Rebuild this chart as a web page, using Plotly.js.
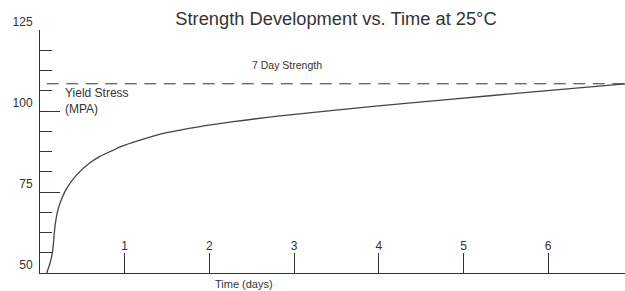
<!DOCTYPE html>
<html>
<head>
<meta charset="utf-8">
<script src="https://cdn.plot.ly/plotly-3.0.1.min.js"></script>
<style>html,body{margin:0;padding:0;background:#fff;}#chart{width:625px;height:291px;}</style>
</head>
<body>
<div id="chart"></div>
<script>
// Time (days) and yield stress (MPa)
const timeDays = [0.079, 0.118, 0.150, 0.165, 0.180, 0.205, 0.236, 0.315, 0.433, 0.59, 0.708, 0.866, 0.945, 1.181, 1.496, 1.889, 2.282, 2.834, 3.935, 4.84, 5.82, 6.907];
const yieldStress = [50, 53.0, 57.0, 61.2, 65.0, 68.8, 71.5, 76.1, 80.3, 84.0, 86.0, 87.9, 88.9, 91.0, 93.3, 95.2, 96.7, 98.5, 101.4, 103.6, 105.9, 108.4];
// 7-day strength reference line
const sevenDayTime = [0.08, 6.907];
const sevenDayStrength = [108.4, 108.4];
// Axis ticks
const xTickVals = [1, 2, 3, 4, 5, 6];
const yTickVals = [50, 75, 100, 125];
const yMinorVals = [56.25, 62.5, 68.75, 81.25, 87.5, 93.75, 106.25, 112.5, 118.75];

const sans = '"Liberation Sans", Arial, sans-serif';

const traces = [
  {x: sevenDayTime, y: sevenDayStrength, mode: 'lines', line: {color: '#333', width: 1, dash: '12px,7.5px'}, hoverinfo: 'skip'},
  {x: timeDays, y: yieldStress, mode: 'lines', line: {color: '#444', width: 1.3, shape: 'spline', smoothing: 0.8}}
];

const layout = {
  width: 625, height: 291,
  margin: {l: 40, r: 0, t: 30, b: 18, pad: 0},
  paper_bgcolor: '#fff', plot_bgcolor: '#fff',
  showlegend: false,
  font: {family: sans, color: '#333', size: 12},
  title: {text: 'Strength Development vs. Time at 25°C', font: {family: sans, size: 18.3, color: '#333'},
          xref: 'container', x: 0.5376, xanchor: 'center', yref: 'container', y: 0.936, yanchor: 'middle'},
  xaxis: {range: [0, 6.907], tickvals: xTickVals, ticks: 'inside', ticklen: 20, tickwidth: 1, tickcolor: '#333',
          ticklabelstandoff: -38, ticklabeloverflow: 'allow',
          showline: true, linecolor: '#333', linewidth: 1, showgrid: false, zeroline: false,
          tickfont: {family: sans, size: 12, color: '#333'}, fixedrange: true},
  yaxis: {range: [50, 125], tickvals: yTickVals, ticks: 'inside', ticklen: 20, tickwidth: 1, tickcolor: '#333',
          ticklabelshift: -8, ticklabelstandoff: 4, ticklabeloverflow: 'allow',
          minor: {tickvals: yMinorVals, ticks: 'inside', ticklen: 12, tickwidth: 1, tickcolor: '#333', showgrid: false},
          showline: true, linecolor: '#333', linewidth: 1, showgrid: false, zeroline: false,
          tickfont: {family: sans, size: 12, color: '#333'}, fixedrange: true},
  annotations: [
    {text: 'Yield Stress<br>(MPA)', x: 0.268, y: 103, xref: 'x', yref: 'y', xanchor: 'left', yanchor: 'middle', align: 'left', showarrow: false,
     font: {family: sans, size: 12, color: '#333'}},
    {text: '7 Day Strength', x: 2.915, y: 114.3, xref: 'x', yref: 'y', xanchor: 'center', yanchor: 'middle', showarrow: false,
     font: {family: sans, size: 10.5, color: '#333'}},
    {text: 'Time (days)', x: 2.04, y: 0, xref: 'x', yref: 'paper', xanchor: 'left', yanchor: 'top', yshift: -3, showarrow: false,
     font: {family: sans, size: 11, color: '#333'}}
  ]
};

Plotly.newPlot('chart', traces, layout, {displayModeBar: false, staticPlot: true});
</script>
</body>
</html>
